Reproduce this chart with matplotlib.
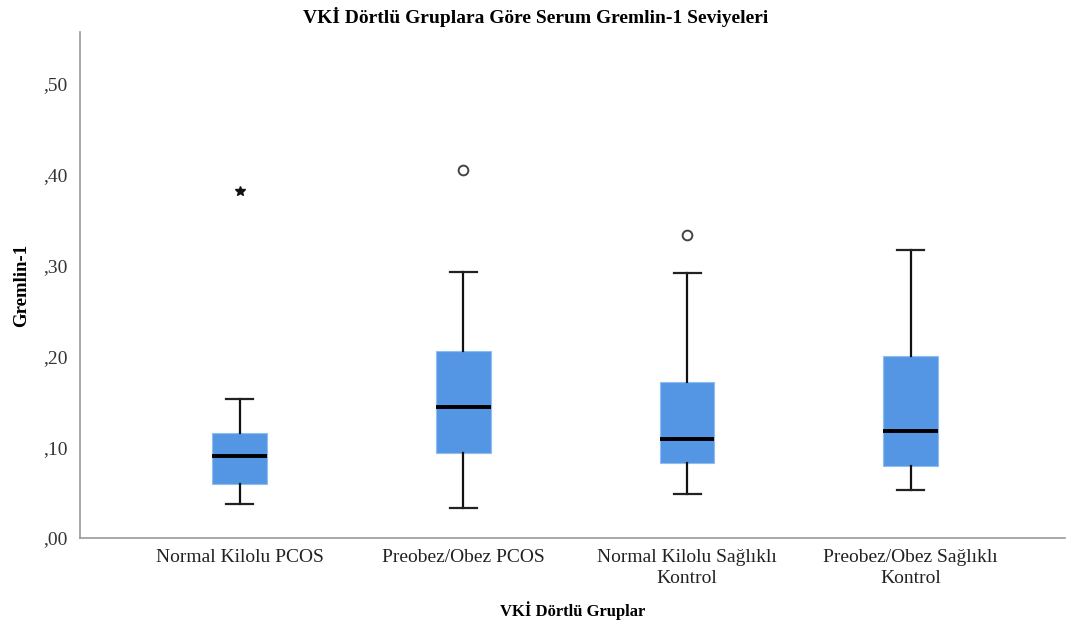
import matplotlib
matplotlib.use("Agg")
import matplotlib.pyplot as plt

groups = ["Normal Kilolu PCOS", "Preobez/Obez PCOS", "Normal Kilolu Sağlıklı\nKontrol", "Preobez/Obez Sağlıklı\nKontrol"]
whisker_low = [0.037, 0.033, 0.048, 0.053]
q1 = [0.059, 0.094, 0.083, 0.079]
median = [0.090, 0.144, 0.109, 0.118]
q3 = [0.116, 0.206, 0.172, 0.200]
whisker_high = [0.153, 0.293, 0.292, 0.317]
outliers = [[], [0.405], [0.333], []]
extremes = [[0.382], [], [], []]
yticks = [0.0, 0.1, 0.2, 0.3, 0.4, 0.5]
ytick_labels = [",00", ",10", ",20", ",30", ",40", ",50"]

plt.rcParams['font.family'] = ['Liberation Serif', 'DejaVu Serif']

fig = plt.figure(figsize=(10.72, 6.32), dpi=100)
ax = fig.add_axes([80/1072, 94/632, 985/1072, 506/632])

stats = []
for i in range(len(groups)):
    stats.append(dict(med=median[i], q1=q1[i], q3=q3[i], whislo=whisker_low[i],
                      whishi=whisker_high[i], fliers=outliers[i], label=groups[i]))

pos = list(range(len(groups)))
bp = ax.bxp(stats, positions=pos, widths=0.245, patch_artist=True, showfliers=True,
            boxprops=dict(facecolor="#5596E4", edgecolor="#8FBDF0", linewidth=0.8),
            medianprops=dict(color="black", linewidth=2.8),
            whiskerprops=dict(color="#111111", linewidth=1.6),
            capprops=dict(color="#222222", linewidth=1.6),
            capwidths=0.12,
            flierprops=dict(marker="o", markerfacecolor="white", markeredgecolor="#444444",
                            markersize=7, markeredgewidth=1.4))

for i, vals in enumerate(extremes):
    if vals:
        ax.plot([pos[i]] * len(vals), vals, linestyle="none", marker="*", color="#111111",
                markersize=7)

ax.set_xlim(-0.715, 3.69)
ax.set_ylim(0, 0.557)
ax.set_yticks(yticks)
ax.set_yticklabels(ytick_labels, fontsize=14, color="#333333")
ax.set_xticks(pos)
ax.set_xticklabels(groups, fontsize=14, color="#222222", linespacing=1.3)
ax.tick_params(axis="both", length=0)
ax.tick_params(axis="y", pad=9)
ax.tick_params(axis="x", pad=8)

for s in ["top", "right"]:
    ax.spines[s].set_visible(False)
for s in ["left", "bottom"]:
    ax.spines[s].set_color("#999999")
    ax.spines[s].set_linewidth(1.2)

ax.set_ylabel("Gremlin-1", fontsize=13.5, fontweight="bold", labelpad=9)
ax.set_xlabel("VKİ Dörtlü Gruplar", fontsize=12, fontweight="bold", labelpad=10)
fig.text(0.5, 1 - 17/632, "VKİ Dörtlü Gruplara Göre Serum Gremlin-1 Seviyeleri",
         ha="center", va="center", fontsize=14, fontweight="bold")

fig.savefig("out.png", dpi=100)
